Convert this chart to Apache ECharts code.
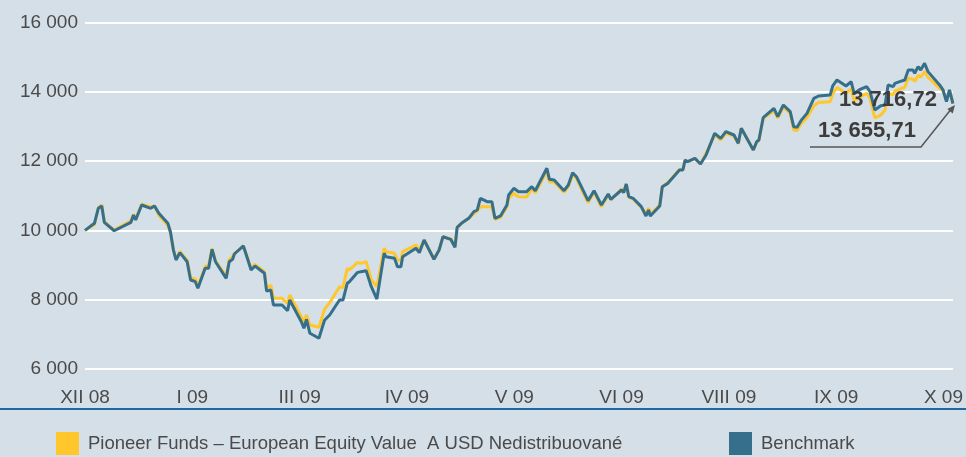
<!DOCTYPE html>
<html>
<head>
<meta charset="utf-8">
<script src="https://cdn.jsdelivr.net/npm/echarts@6/dist/echarts.min.js"></script>
<style>
html,body{margin:0;padding:0;background:#d5dfe7;}
#c{width:966px;height:457px;}
</style>
</head>
<body>
<div id="c"></div>
<script>
// Trading-day index (x)
var days = [0,2.2,3.1,3.9,4.5,6.8,10.7,11.3,11.8,13.2,15.3,16.2,17.2,19.3,19.9,20.6,21.2,22.1,23.8,24.6,25.7,26.3,28.0,28.8,29.6,30.4,32.9,33.6,34.4,34.8,36.9,37.9,38.7,39.6,41.8,42.3,43.3,43.9,45.9,47.2,47.7,50.4,51.0,51.6,52.4,54.5,55.8,57.0,59.3,60.1,61.1,61.6,63.4,64.3,65.5,66.7,68.0,69.7,70.1,72.1,72.8,73.6,74.0,77.1,77.9,79.0,81.3,82.5,82.9,83.4,85.2,86.2,86.7,87.7,89.4,90.6,91.4,92.1,93.7,94.8,95.5,96.8,98.3,98.7,99.9,101.0,102.9,104.1,104.9,107.6,108.2,109.3,111.6,112.6,113.6,114.5,116.2,117.2,118.6,120.3,121.9,122.5,125.0,125.5,126.1,126.7,127.7,129.6,130.7,131.3,131.7,133.9,134.5,135.8,138.5,139.3,139.8,140.4,142.1,143.4,144.7,146.7,148.1,149.3,151.2,152.2,152.9,155.7,156.5,157.0,158.0,160.5,161.4,162.7,164.3,165.1,165.9,166.8,168.2,169.8,170.9,173.6,174.2,175.2,177.3,178.5,179.2,180.6,182.1,182.9,184.0,185.4,186.4,187.1,188.3,188.7,189.8,191.0,191.8,192.9,193.3,194.1,194.7,195.6,196.4,199.1,199.9,200.7,201.4,202.2];

var fund = [10000,10170,10650,10740,10260,10010,10280,10460,10330,10760,
10680,10710,10440,10150,9930,9450,9180,9390,9140,8630,
8600,8390,8960,9000,9480,9120,8680,9150,9250,9330,
9550,9200,8900,9020,8810,8330,8420,8040,8040,7896,
8136,7510,7336,7558,7270,7203,7723,7914,8376,8340,
8906,8857,9069,9050,9097,8569,8380,9484,9386,9339,
9146,9146,9386,9579,9434,9723,9166,9434,9434,9818,
9760,9530,10089,10205,10349,10490,10560,10685,10685,10685,
10320,10380,10680,10926,11070,10974,10964,11205,11089,11705,
11397,11400,11100,11260,11620,11500,11050,10800,11100,10680,
11020,10880,11200,11100,11340,10950,10900,10670,10480,10640,
10460,10740,11262,11380,11760,11760,12000,11983,12080,11916,
12230,12760,12610,12800,12720,12500,12946,12320,12540,12590,
13230,13450,13240,13560,13380,12900,12880,13080,13250,13600,
13690,13715,13950,14120,13960,14080,13740,13850,13960,13820,
13250,13330,13475,13950,13920,14020,14080,14130,14389,14360,
14300,14480,14420,14582,14420,14100,14030,13750,14040,13716.72];

var bench = [10000,10205,10638,10704,10234,9990,10234,10444,10300,10733,
10638,10704,10494,10205,9962,9434,9146,9357,9097,8569,
8520,8329,8906,8906,9455,9097,8617,9097,9166,9319,
9550,9166,8857,8972,8762,8251,8280,7847,7847,7683,
7991,7365,7175,7434,7030,6886,7406,7558,7991,7991,
8473,8520,8780,8809,8838,8376,8020,9339,9242,9195,
8953,8953,9242,9484,9357,9723,9166,9434,9434,9818,
9743,9512,10089,10205,10349,10540,10589,10926,10829,10829,
10349,10416,10733,11022,11215,11117,11117,11262,11146,11792,
11474,11454,11146,11310,11666,11550,11117,10857,11146,10733,
11050,10897,11166,11089,11340,10973,10926,10685,10416,10589,
10416,10704,11262,11358,11743,11743,12031,11983,12080,11916,
12176,12801,12657,12849,12753,12513,12946,12320,12560,12609,
13253,13524,13282,13619,13426,12993,12975,13167,13378,13812,
13879,13908,14168,14341,14168,14293,13950,14072,14149,14005,
13475,13600,13620,14197,14149,14245,14293,14341,14630,14630,
14534,14726,14630,14822,14582,14197,14053,13715,14053,13655.71];

var monthLabels = ['XII 08','I 09','III 09','IV 09','V 09','VI 09','VIII 09','IX 09','X 09'];
var seriesNames = ['Pioneer Funds – European Equity Value  A USD Nedistribuované','Benchmark'];

function fmtThousands(v){
  return String(Math.round(v)).replace(/\B(?=(\d{3})+(?!\d))/g,' ');
}
function fmtValue(v){
  var p = v.toFixed(2).split('.');
  return p[0].replace(/\B(?=(\d{3})+(?!\d))/g,' ') + ',' + p[1];
}

var fundData = days.map(function(d,i){return [d,fund[i]];});
var benchData = days.map(function(d,i){return [d,bench[i]];});

var FONT = "'Liberation Sans', Arial, sans-serif";
var YELLOW = '#ffc72c', BLUE = '#356f8b', TXT = '#4a4a4a';

var chart = echarts.init(document.getElementById('c'));
chart.setOption({
  backgroundColor:'#d5dfe7',
  animation:false,
  textStyle:{fontFamily:FONT},
  grid:{left:85,right:9,top:22.5,bottom:88},
  legend:[
    {left:56,top:432,padding:0,itemWidth:23,itemHeight:23,itemGap:0,icon:'rect',
     data:[seriesNames[0]],
     textStyle:{fontSize:18.5,color:TXT,fontFamily:FONT,padding:[0,0,0,4]}},
    {left:729,top:432,padding:0,itemWidth:23,itemHeight:23,itemGap:0,icon:'rect',
     data:[seriesNames[1]],
     textStyle:{fontSize:18.5,color:TXT,fontFamily:FONT,padding:[0,0,0,4]}}
  ],
  xAxis:{type:'value',min:0,max:202.2,interval:25,
    axisLine:{show:false},axisTick:{show:false},splitLine:{show:false},
    axisLabel:{margin:19,fontSize:19,color:TXT,fontFamily:FONT,showMaxLabel:false,
      formatter:function(v){var k=v/25;return (Math.abs(k-Math.round(k))<1e-6 && monthLabels[Math.round(k)])||'';}}},
  yAxis:{type:'value',min:6000,max:16000,interval:2000,
    axisLine:{show:false},axisTick:{show:false},
    splitLine:{lineStyle:{color:'#ffffff',width:2}},
    axisLabel:{margin:7,fontSize:19,color:TXT,fontFamily:FONT,
      formatter:function(v){return fmtThousands(v);}}},
  series:[
    {name:seriesNames[0],type:'line',data:fundData,showSymbol:false,
     itemStyle:{color:YELLOW},lineStyle:{color:YELLOW,width:3},z:2},
    {name:seriesNames[1],type:'line',data:benchData,showSymbol:false,
     itemStyle:{color:BLUE},lineStyle:{color:BLUE,width:3},z:3}
  ],
  graphic:[
    {type:'line',shape:{x1:0,y1:409,x2:966,y2:409},style:{stroke:'#1f69a3',lineWidth:2},z:10},
    {type:'polyline',shape:{points:[[810,147],[921,147],[952,108]]},style:{stroke:'#555555',lineWidth:1.5,fill:null},z:10},
    {type:'polygon',shape:{points:[[955,105],[952.7,113.4],[947.3,109]]},style:{fill:'#555555'},z:10},
    {type:'text',left:839,top:89,style:{text:fmtValue(fund[fund.length-1]),font:"bold 22px 'Liberation Sans', Arial, sans-serif",fill:'#3c3c3c'},z:11},
    {type:'text',left:818,top:120,style:{text:fmtValue(bench[bench.length-1]),font:"bold 22px 'Liberation Sans', Arial, sans-serif",fill:'#3c3c3c'},z:11}
  ]
});
</script>
</body>
</html>
